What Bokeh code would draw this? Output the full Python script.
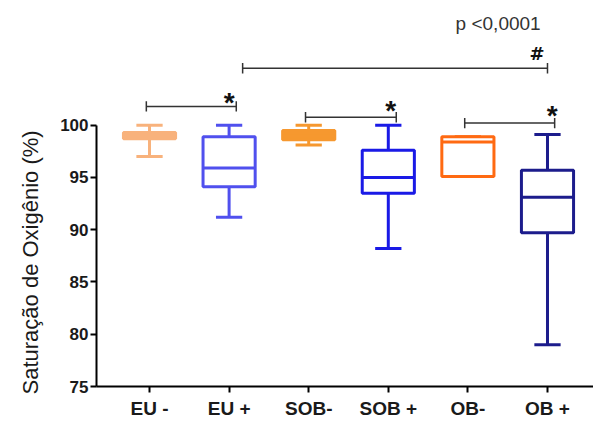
import numpy as np
from bokeh.plotting import figure
from bokeh.models import ColumnDataSource, FixedTicker, Range1d, Title
from bokeh.core.properties import value
from bokeh.embed import file_html
from bokeh.resources import INLINE

# ---- data ----
categories = ["EU -", "EU +", "SOB-", "SOB +", "OB-", "OB +"]
whisker_low = [97.0, 91.2, 98.1, 88.2, 95.1, 79.0]
q1 = [98.7, 94.1, 98.6, 93.5, 95.1, 89.7]
median = [99.0, 95.9, 99.0, 95.0, 98.4, 93.1]
q3 = [99.3, 98.9, 99.5, 97.6, 98.9, 95.7]
whisker_high = [100.0, 100.0, 100.0, 100.0, 98.9, 99.1]
colors = ["#F8B27C", "#5050EE", "#F6982F", "#1A1AE6", "#FF6A12", "#1C1C8C"]
fills = ["#F8B27C", "white", "#F6982F", "white", "white", "white"]
y_ticks = [75, 80, 85, 90, 95, 100]

# significance annotations: (left x, right x, bracket y, label, label x, label y, font, size)
brackets = [
    (0.96, 2.09, 101.8, "*", 2.0, 102.2, "Liberation Sans", "28px"),
    (2.96, 4.10, 100.76, "*", 4.03, 101.4, "Liberation Sans", "28px"),
    (4.96, 6.09, 100.2, "*", 6.06, 100.95, "Liberation Sans", "28px"),
    (2.17, 6.00, 105.44, "#", 5.87, 106.9, "DejaVu Sans", "18px"),
]
p_text = "p <0,0001"

FONT = "Liberation Sans"
x = np.arange(1, len(categories) + 1, dtype=float)
box_w = 0.655
cap_w = 0.33

p = figure(width=593, height=421, output_backend="svg", toolbar_location=None,
           x_range=Range1d(0.334, 6.578), y_range=Range1d(75, 111.93),
           min_border_left=96, min_border_right=0, min_border_top=0, min_border_bottom=34)
p.outline_line_color = None
p.grid.visible = False
p.background_fill_color = "white"

src = ColumnDataSource(dict(
    x=x, lo=whisker_low, q1=q1, med=median, q3=q3, hi=whisker_high,
    color=colors, fill=fills,
    xl=x - box_w / 2, xr=x + box_w / 2, cl=x - cap_w / 2, cr=x + cap_w / 2,
))

# whiskers
p.segment(x0="x", y0="q3", x1="x", y1="hi", source=src, line_color="color", line_width=3)
p.segment(x0="x", y0="q1", x1="x", y1="lo", source=src, line_color="color", line_width=3)
p.segment(x0="cl", y0="hi", x1="cr", y1="hi", source=src, line_color="color", line_width=3)
p.segment(x0="cl", y0="lo", x1="cr", y1="lo", source=src, line_color="color", line_width=3)
# boxes
p.vbar(x="x", width=box_w, bottom="q1", top="q3", source=src,
       fill_color="fill", line_color="color", line_width=3)
p.segment(x0="xl", y0="med", x1="xr", y1="med", source=src, line_color="color", line_width=3)

# significance brackets
for xl, xr, yb, lab, lx, ly, fnt, fs in brackets:
    p.segment(x0=[xl, xl, xr], y0=[yb, yb - 0.5, yb - 0.5],
              x1=[xr, xl, xr], y1=[yb, yb + 0.5, yb + 0.5],
              line_color="#333333", line_width=1.5)
    p.text(x=[lx], y=[ly], text=[lab], text_font=value(fnt), text_font_size=fs,
           text_font_style="bold", text_align="center", text_baseline="middle",
           text_color="#111111")
p.text(x=[5.38], y=[109.7], text=[p_text], text_font=value(FONT), text_font_size="19px",
       text_align="center", text_baseline="middle", text_color="#333333")

# axes
p.xaxis.ticker = FixedTicker(ticks=list(x))
p.xaxis.major_label_overrides = {float(v): c for v, c in zip(x, categories)}
p.xaxis.major_label_overrides.update({int(v): c for v, c in zip(x, categories)})
p.yaxis.ticker = FixedTicker(ticks=y_ticks)
p.yaxis.bounds = (75, 100)
for ax in (p.xaxis, p.yaxis):
    ax.axis_line_color = "black"
    ax.axis_line_width = 2
    ax.major_tick_line_color = "black"
    ax.major_tick_line_width = 2
    ax.major_tick_out = 6
    ax.major_tick_in = 0
    ax.minor_tick_line_color = None
    ax.major_label_text_font = FONT
    ax.major_label_text_font_style = "bold"
    ax.major_label_text_color = "#1a1a1a"
p.xaxis.major_label_text_font_size = "19px"
p.xaxis.major_label_standoff = 5
p.yaxis.major_label_text_font_size = "17px"
p.yaxis.major_label_standoff = 2

ylabel = Title(text="Saturação de Oxigênio (%)", align="left", offset=-8, standoff=30,
               text_font=FONT, text_font_size="22px", text_font_style="normal",
               text_color="#1a1a1a")
p.add_layout(ylabel, "left")

open("out.html", "w").write(file_html(p, INLINE))
